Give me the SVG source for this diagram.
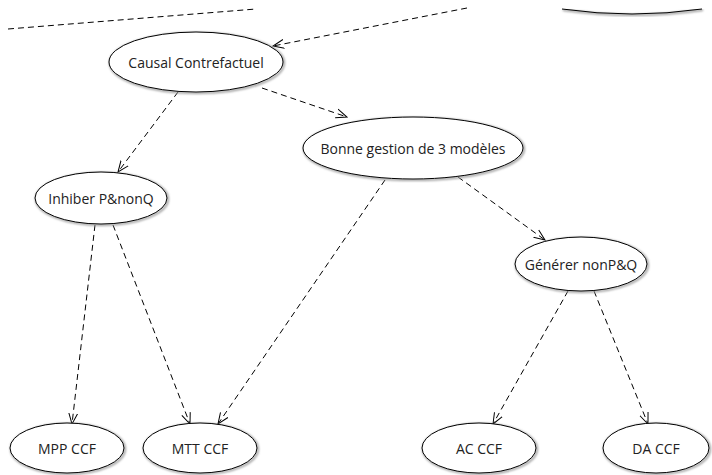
<svg xmlns="http://www.w3.org/2000/svg" width="712" height="475" viewBox="0 0 712 475">
<defs>
<marker id="arr" viewBox="0 0 12 12" refX="11" refY="6" markerWidth="12" markerHeight="12" markerUnits="userSpaceOnUse" orient="auto">
<path d="M0,1.5 L11,6 L0,10.5" fill="none" stroke="#000" stroke-width="1"/>
</marker>
<filter id="sh" x="-10%" y="-10%" width="130%" height="140%">
<feGaussianBlur stdDeviation="1.2"/>
</filter>
</defs>
<style>
.n ellipse.b{fill:#fff;stroke:#000;stroke-width:1}
.n ellipse.s{fill:none;stroke:#999;stroke-width:2;filter:url(#sh)}
.n text{font-family:"Open Sans","DejaVu Sans",sans-serif;font-size:14px;fill:#222;text-anchor:middle;dominant-baseline:central}
.e path{fill:none;stroke:#000;stroke-width:1;stroke-dasharray:6 4;marker-end:url(#arr)}
.d{fill:none;stroke:#000;stroke-width:1;stroke-dasharray:6 4}
</style>
<rect width="712" height="475" fill="#fff"/>
<path class="d" d="M8,29 L256,9"/>
<g id="topnode">
<path d="M563,10 Q633,20 703,10" fill="none" stroke="#999" stroke-width="2" filter="url(#sh)"/>
<path d="M562,9 Q632,19 702,9" fill="none" stroke="#000" stroke-width="1"/>
</g>
<g id="edges" class="e">
<path d="M467,8 L273,46"/>
<path d="M178,92 L118,172"/>
<path d="M262,88 L347,117"/>
<path d="M458,177 L545,240"/>
<path d="M385,180 L218,424"/>
<path d="M95,225 L72,424"/>
<path d="M113,225 L190,424"/>
<path d="M568,291 L493,424"/>
<path d="M594,291 L648,424"/>
</g>
<g id="causal" class="n">
<ellipse class="s" cx="197" cy="63" rx="87" ry="30"/>
<ellipse class="b" cx="196" cy="62" rx="87" ry="30"/>
<text x="196" y="62">Causal Contrefactuel</text>
</g>
<g id="bonne" class="n">
<ellipse class="s" cx="414" cy="149" rx="110" ry="31"/>
<ellipse class="b" cx="413" cy="148" rx="110" ry="31"/>
<text x="413" y="148">Bonne gestion de 3 modèles</text>
</g>
<g id="inhiber" class="n">
<ellipse class="s" cx="102" cy="199" rx="66" ry="26"/>
<ellipse class="b" cx="101" cy="198" rx="66" ry="26"/>
<text x="101" y="198">Inhiber P&amp;nonQ</text>
</g>
<g id="generer" class="n">
<ellipse class="s" cx="582" cy="265" rx="66" ry="27"/>
<ellipse class="b" cx="581" cy="264" rx="66" ry="27"/>
<text x="581" y="264">Générer nonP&amp;Q</text>
</g>
<g id="mpp" class="n">
<ellipse class="s" cx="68" cy="449" rx="57" ry="25"/>
<ellipse class="b" cx="67" cy="448" rx="57" ry="25"/>
<text x="67" y="448">MPP CCF</text>
</g>
<g id="mtt" class="n">
<ellipse class="s" cx="201" cy="449" rx="57" ry="25"/>
<ellipse class="b" cx="200" cy="448" rx="57" ry="25"/>
<text x="200" y="448">MTT CCF</text>
</g>
<g id="ac" class="n">
<ellipse class="s" cx="480" cy="449" rx="57" ry="25"/>
<ellipse class="b" cx="479" cy="448" rx="57" ry="25"/>
<text x="479" y="448">AC CCF</text>
</g>
<g id="da" class="n">
<ellipse class="s" cx="657" cy="449" rx="53" ry="25"/>
<ellipse class="b" cx="656" cy="448" rx="53" ry="25"/>
<text x="656" y="448">DA CCF</text>
</g>
</svg>
